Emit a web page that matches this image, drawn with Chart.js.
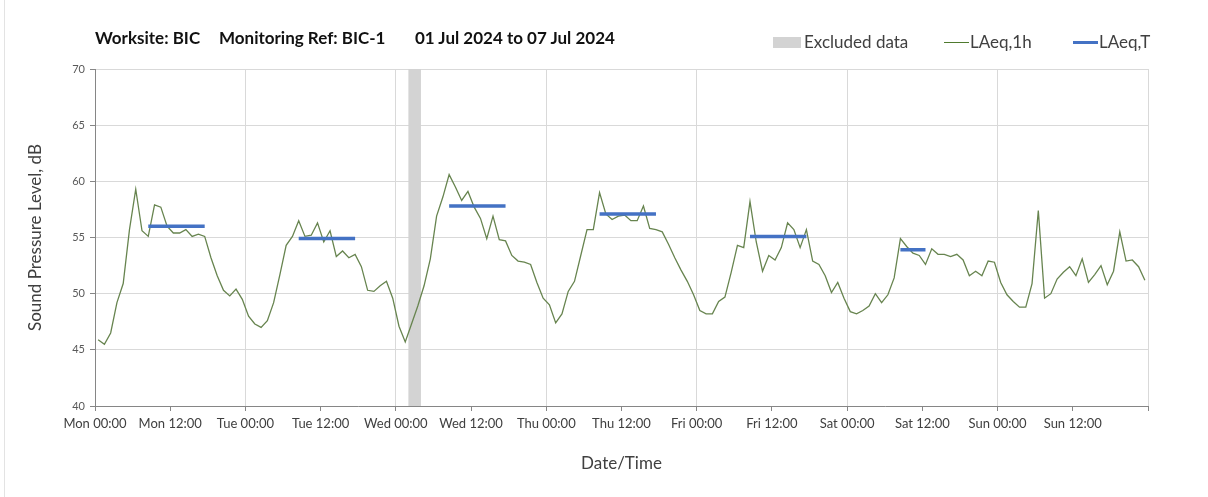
<!DOCTYPE html>
<html>
<head>
<meta charset="utf-8">
<title>BIC-1 noise</title>
<script src="https://cdn.jsdelivr.net/npm/chart.js@4.4.1/dist/chart.umd.min.js"></script>
<style>
    body { margin: 0; background: #fff; font-family: Lato, "Open Sans", sans-serif; }
    #wrap { position: relative; width: 1208px; height: 497px; overflow: hidden; }
    #wrap canvas { position: absolute; left: 0; top: 0; }
    .edge { position: absolute; left: 4px; top: 0; width: 1px; height: 497px; background: #e3e3e3; }
    .title { position: absolute; top: 27px; font-weight: bold; font-size: 17px; color: #111; white-space: nowrap; }
    .legend { position: absolute; top: 31px; font-size: 17px; color: #404040; white-space: nowrap; }
    .sw { position: absolute; }
</style>
</head>
<body>
<div id="wrap">
    <canvas id="chart-noise" width="1208" height="497"></canvas>
    <div class="edge"></div>
    <div class="title" style="left:95px">Worksite: BIC</div>
    <div class="title" style="left:219px">Monitoring Ref: BIC-1</div>
    <div class="title" style="left:415px">01 Jul 2024 to 07 Jul 2024</div>

    <div class="sw" style="left:773px;top:37px;width:28px;height:11px;background:#d3d3d3"></div>
    <div class="legend" style="left:804px">Excluded data</div>
    <div class="sw" style="left:944px;top:42px;width:25px;height:1px;background:#4f7a2e"></div>
    <div class="legend" style="left:970px">LAeq,1h</div>
    <div class="sw" style="left:1073px;top:41px;width:25px;height:3px;background:#4472c4"></div>
    <div class="legend" style="left:1099px">LAeq,T</div>
</div>

<script>
// tick labels every 12 hours
var tickLabels = ['Mon 00:00', 'Mon 12:00', 'Tue 00:00', 'Tue 12:00', 'Wed 00:00', 'Wed 12:00',
    'Thu 00:00', 'Thu 12:00', 'Fri 00:00', 'Fri 12:00', 'Sat 00:00', 'Sat 12:00', 'Sun 00:00', 'Sun 12:00'];

// LAeq,1h - one value per hour from Mon 00:00
var laeq1h = [
    45.9, 45.5, 46.5, 49.2, 50.9, 55.7, 59.3, 55.6, 55.1, 57.9, 57.7, 56.0,
    55.4, 55.4, 55.7, 55.1, 55.3, 55.1, 53.2, 51.6, 50.3, 49.8, 50.4, 49.5,
    48.0, 47.3, 47.0, 47.6, 49.2, 51.7, 54.3, 55.1, 56.5, 55.1, 55.2, 56.3,
    54.6, 55.6, 53.3, 53.8, 53.2, 53.5, 52.4, 50.3, 50.2, 50.7, 51.1, 49.6,
    47.1, 45.7, 47.3, 48.9, 50.7, 53.1, 56.9, 58.6, 60.6, 59.5, 58.3, 59.1,
    57.7, 56.7, 54.9, 56.9, 54.8, 54.7, 53.4, 52.9, 52.8, 52.6, 51.0, 49.6,
    49.0, 47.4, 48.2, 50.2, 51.1, 53.4, 55.7, 55.7, 59.0, 57.1, 56.6, 56.9,
    57.0, 56.5, 56.5, 57.8, 55.8, 55.7, 55.5, 54.4, 53.2, 52.1, 51.1, 49.9,
    48.5, 48.2, 48.2, 49.3, 49.7, 51.9, 54.3, 54.1, 58.2, 54.6, 52.0, 53.4,
    53.0, 54.1, 56.3, 55.7, 54.1, 55.7, 52.9, 52.6, 51.6, 50.1, 51.0, 49.6,
    48.4, 48.2, 48.5, 48.9, 50.0, 49.2, 49.9, 51.4, 54.9, 54.2, 53.6, 53.4,
    52.6, 54.0, 53.5, 53.5, 53.3, 53.5, 53.0, 51.6, 52.0, 51.6, 52.9, 52.8,
    51.0, 49.9, 49.3, 48.8, 48.8, 50.9, 57.4, 49.6, 50.0, 51.3, 51.9, 52.4,
    51.6, 53.1, 51.0, 51.7, 52.5, 50.8, 52.0, 55.5, 52.9, 53.0, 52.4, 51.2
];

// LAeq,T periods (first and last hour index) and levels
var periodStart = [8, 32, 56, 80, 104, 128];
var periodEnd = [17, 41, 65, 89, 113, 132];
var periodLevel = [56.0, 54.9, 57.8, 57.1, 55.1, 53.9];

// excluded data (hour index range)
var excludedFrom = [50];
var excludedTo = [52];

var yTicks = [40, 45, 50, 55, 60, 65, 70];

var lineData = laeq1h.map(function (v, i) {
    return { x: i + 0.5, y: v };
});

var periodData = [];
periodStart.forEach(function (s, k) {
    periodData.push({ x: s + 0.5, y: periodLevel[k] });
    periodData.push({ x: periodEnd[k] + 0.5, y: periodLevel[k] });
    periodData.push({ x: periodEnd[k] + 0.5, y: null });
});

var excludedBand = {
    id: 'excludedBand',
    beforeDatasetsDraw: function (chart) {
        var ctx = chart.ctx;
        var xs = chart.scales.x;
        var area = chart.chartArea;
        ctx.save();
        ctx.fillStyle = '#d3d3d3';
        excludedFrom.forEach(function (f, k) {
            var x1 = xs.getPixelForValue(f);
            var x2 = xs.getPixelForValue(excludedTo[k]);
            ctx.fillRect(x1, area.top, x2 - x1, area.bottom - area.top);
        });
        ctx.restore();
    }
};

var chart = new Chart(document.getElementById('chart-noise').getContext('2d'), {
    type: 'line',
    data: {
        datasets: [
            {
                label: 'LAeq,T',
                data: periodData,
                borderColor: '#4472c4',
                borderWidth: 3.5,
                pointRadius: 0,
                spanGaps: false,
                fill: false
            },
            {
                label: 'LAeq,1h',
                data: lineData,
                borderColor: '#67844f',
                borderWidth: 1.3,
                pointRadius: 0,
                tension: 0,
                fill: false
            }
        ]
    },
    options: {
        responsive: false,
        animation: false,
        layout: { padding: { left: 0, top: 69, right: 60, bottom: 0 } },
        plugins: {
            legend: { display: false },
            tooltip: { enabled: false }
        },
        scales: {
            x: {
                type: 'linear',
                min: 0,
                max: 168,
                afterBuildTicks: function (scale) {
                    scale.ticks = [];
                    for (var h = 0; h <= 168; h += 12) scale.ticks.push({ value: h });
                },
                afterFit: function (scale) { scale.height = 91; },
                ticks: {
                    autoSkip: false,
                    maxRotation: 0,
                    padding: 5,
                    color: '#404040',
                    font: { family: 'Lato', size: 13 },
                    callback: function (value) {
                        return tickLabels[value / 12] || '';
                    }
                },
                grid: {
                    tickLength: 5,
                    tickColor: '#868686',
                    color: function (c) {
                        return c.tick && c.tick.value % 24 === 0 ? '#d9d9d9' : 'rgba(0,0,0,0)';
                    }
                },
                border: { color: '#868686' },
                title: {
                    display: true,
                    text: 'Date/Time',
                    color: '#404040',
                    font: { family: 'Lato', size: 17 },
                    padding: { top: 0, bottom: 23 }
                }
            },
            y: {
                min: 40,
                max: 70,
                afterBuildTicks: function (scale) {
                    scale.ticks = yTicks.map(function (v) { return { value: v }; });
                },
                afterFit: function (scale) { scale.width = 95; },
                ticks: {
                    padding: 5,
                    color: '#595959',
                    font: { family: 'Lato', size: 11 }
                },
                grid: {
                    tickLength: 5,
                    tickColor: '#868686',
                    color: '#d9d9d9'
                },
                border: { color: '#868686' },
                title: {
                    display: true,
                    text: 'Sound Pressure Level, dB',
                    color: '#404040',
                    font: { family: 'Lato', size: 17 },
                    padding: { top: 25, bottom: 0 }
                }
            }
        }
    },
    plugins: [excludedBand]
});
</script>
</body>
</html>
